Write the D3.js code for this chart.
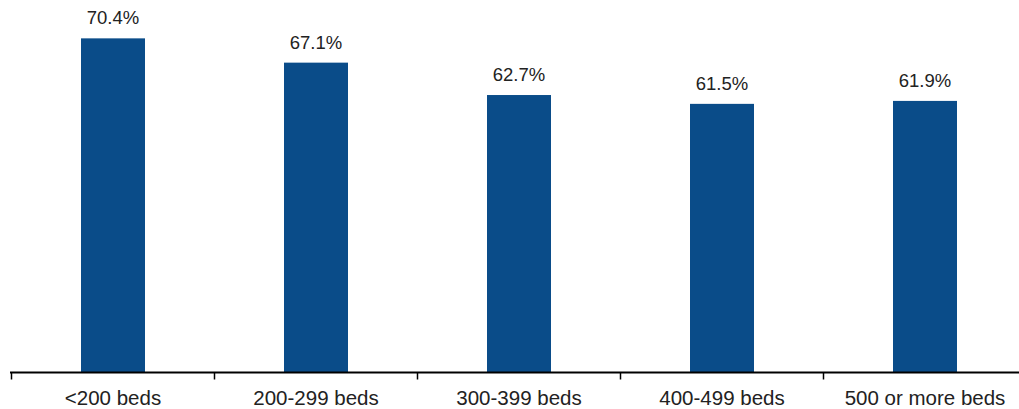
<!DOCTYPE html>
<html>
<head>
<meta charset="utf-8">
<script src="https://cdn.jsdelivr.net/npm/d3@7"></script>
<style>
  body { margin: 0; background: #fff; }
  text { font-family: "Liberation Sans", Arial, sans-serif; fill: #222; }
</style>
</head>
<body>
<svg width="1019" height="409"></svg>
<script>
const categories = ['<200 beds', '200-299 beds', '300-399 beds', '400-499 beds', '500 or more beds'];
const values = [70.4, 67.1, 62.7, 61.5, 61.9];

const svg = d3.select('svg');

const data = categories.map((c, i) => ({ category: c, value: values[i] }));

const xScale = d3.scaleBand()
    .domain(categories)
    .range([11.5, 1026.5]);

const yScale = d3.scaleLinear()
    .domain([25, 75])
    .range([372.5, 4.5]);

const barWidth = 64;

const g = svg.append('g');

g.selectAll('rect').data(data)
    .enter().append('rect')
        .attr('x', d => xScale(d.category) + xScale.bandwidth() / 2 - barWidth / 2)
        .attr('y', d => yScale(d.value))
        .attr('width', barWidth)
        .attr('height', d => yScale(25) - yScale(d.value))
        .attr('fill', '#0a4c89');

g.selectAll('.value-label').data(data)
    .enter().append('text')
        .attr('class', 'value-label')
        .attr('text-anchor', 'middle')
        .attr('x', d => xScale(d.category) + xScale.bandwidth() / 2)
        .attr('y', d => yScale(d.value) - 14)
        .style('font-size', '18.5px')
        .text(d => d.value.toFixed(1) + '%');

// x axis: line with ticks at band edges
const xAxisG = g.append('g');
xAxisG.append('line')
    .attr('x1', 10)
    .attr('x2', 1019)
    .attr('y1', yScale(25))
    .attr('y2', yScale(25))
    .attr('stroke', '#000')
    .attr('stroke-width', 2);

xAxisG.selectAll('.tick').data(categories)
    .enter().append('line')
        .attr('x1', d => xScale(d))
        .attr('x2', d => xScale(d))
        .attr('y1', yScale(25))
        .attr('y2', yScale(25) + 7)
        .attr('stroke', '#000')
        .attr('stroke-width', 1.5);

xAxisG.selectAll('.axis-label').data(categories)
    .enter().append('text')
        .attr('class', 'axis-label')
        .attr('text-anchor', 'middle')
        .attr('x', d => xScale(d) + xScale.bandwidth() / 2)
        .attr('y', 405)
        .style('font-size', '20.5px')
        .text(d => d);
</script>
</body>
</html>
